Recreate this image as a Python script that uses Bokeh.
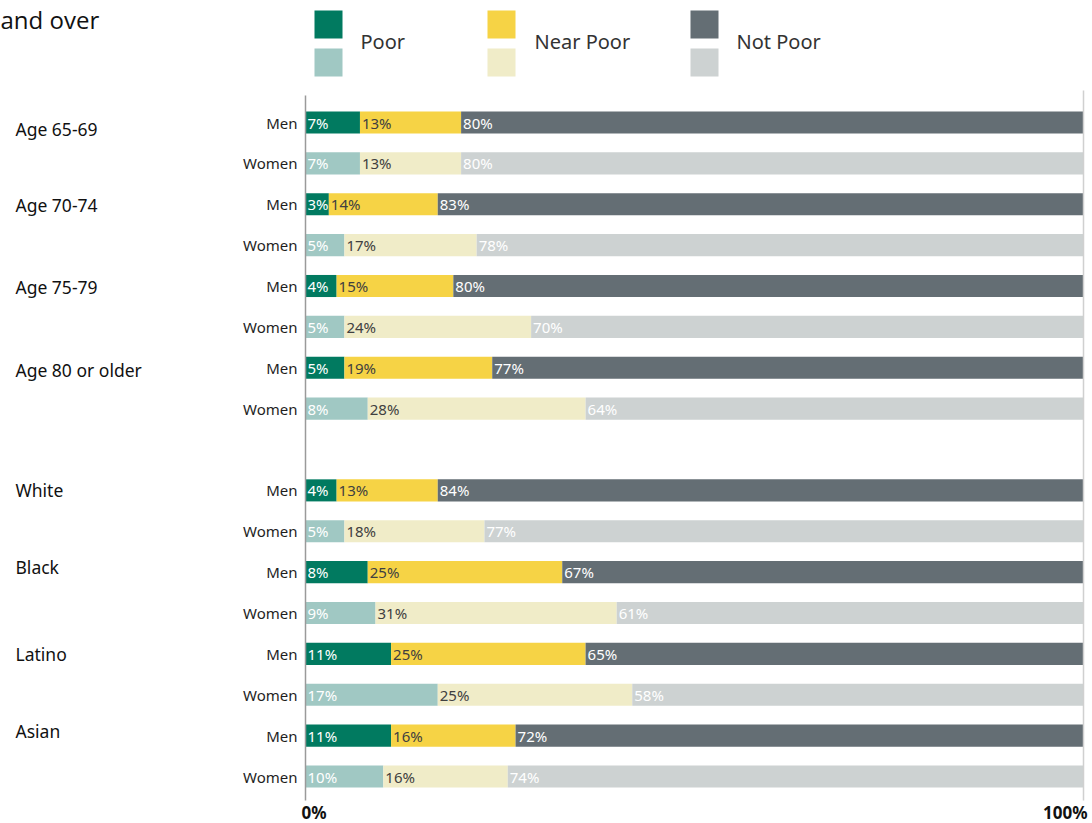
from bokeh.plotting import figure
from bokeh.models import ColumnDataSource, Range1d
from bokeh.core.properties import value
from bokeh.embed import file_html
from bokeh.resources import INLINE

groups = ["Age 65-69", "Age 70-74", "Age 75-79", "Age 80 or older",
          "White", "Black", "Latino", "Asian"]
sexes = ["Men", "Women"]
men_poor = [7, 3, 4, 5, 4, 8, 11, 11]
men_near = [13, 14, 15, 19, 13, 25, 25, 16]
men_not = [80, 83, 80, 77, 84, 67, 65, 72]
women_poor = [7, 5, 5, 8, 5, 9, 17, 10]
women_near = [13, 17, 24, 28, 18, 31, 25, 16]
women_not = [80, 78, 70, 64, 77, 61, 58, 74]
categories = ["Poor", "Near Poor", "Not Poor"]
tick_labels = ["0%", "100%"]
tick_values = [0, 100]

W, H = 1092, 823
X0, X100 = 305, 1083
PXU = (X100 - X0) / 100.0
ROW0, ROWSTEP = 122, 40.875
FONT = value("Noto Sans")
# small vertical nudges (pixels, positive = down) of the group labels, as in the original layout
group_dy = [6, 1, 1, 2, 0, -5, 0, -5]


def X(px):
    return (px - X0) / PXU


def Y(py):
    return (py - ROW0) / ROWSTEP


dark = {"Poor": "#017a60", "Near Poor": "#f6d345", "Not Poor": "#646e74"}
light = {"Poor": "#a0c8c3", "Near Poor": "#f0ecc8", "Not Poor": "#cdd2d2"}
lab_dark = {"Poor": "white", "Near Poor": "#404040", "Not Poor": "white"}
lab_light = {"Poor": "white", "Near Poor": "#404040", "Not Poor": "white"}

p = figure(width=W, height=H, output_backend="svg", toolbar_location=None,
           x_range=Range1d(X(0), X(W)), y_range=Range1d(Y(H), Y(0)),
           min_border=0, min_border_left=0, min_border_right=0,
           min_border_top=0, min_border_bottom=0)
p.axis.visible = False
p.grid.visible = False
p.outline_line_color = None
p.background_fill_color = "white"
p.border_fill_color = "white"

bar = dict(y=[], left=[], right=[], color=[], label=[], tcolor=[])
rowlab = dict(y=[], text=[])
grouplab = dict(y=[], text=[], dy=[])
for g, name in enumerate(groups):
    men_row = 2 * g + (1 if g >= 4 else 0)
    for s, (pv, nv, npv) in enumerate([(men_poor[g], men_near[g], men_not[g]),
                                        (women_poor[g], women_near[g], women_not[g])]):
        row = men_row + s
        cols = dark if s == 0 else light
        tcols = lab_dark if s == 0 else lab_light
        left = 0
        for cat, v in zip(categories, [pv, nv, npv]):
            right = left + v if cat != "Not Poor" else 100
            bar["y"].append(row)
            bar["left"].append(left)
            bar["right"].append(right)
            bar["color"].append(cols[cat])
            bar["label"].append(f"{v}%")
            bar["tcolor"].append(tcols[cat])
            left = left + v
        rowlab["y"].append(row)
        rowlab["text"].append(sexes[s])
    grouplab["y"].append(men_row)
    grouplab["text"].append(name)
    grouplab["dy"].append(group_dy[g])

src = ColumnDataSource(bar)
p.hbar(y="y", left="left", right="right", height=0.54, fill_color="color",
       line_color=None, source=src)
p.text(x="left", y="y", text="label", text_color="tcolor", source=src,
       x_offset=2, y_offset=0, text_baseline="middle", text_align="left",
       text_font=FONT, text_font_size="15px")

p.text(x=0, y="y", text="text", source=ColumnDataSource(rowlab), x_offset=-8,
       y_offset=0, text_align="right", text_baseline="middle", text_color="#1e1e1e",
       text_font=FONT, text_font_size="15px")
p.text(x=X(15), y="y", text="text", source=ColumnDataSource(grouplab), y_offset="dy",
       text_align="left", text_baseline="middle", text_color="#111111",
       text_font=FONT, text_font_size="17.5px")

# axis lines
p.segment(x0=[0], y0=[Y(95)], x1=[0], y1=[Y(800)], line_color="#9a9a9a", line_width=1.5)
p.segment(x0=[100], y0=[Y(90)], x1=[100], y1=[Y(800)], line_color="#d0d0d0", line_width=1.5)

# tick labels
p.text(x=tick_values, y=[Y(812)] * 2, text=tick_labels,
       text_align=["left", "right"], x_offset=[-4, 4], text_baseline="middle",
       text_color="#111111", text_font=FONT, text_font_size="17px",
       text_font_style="bold")

# legend
leg_x = [314, 487, 690]
leg_tx = [360, 534, 736]
for cat, lx, tx in zip(categories, leg_x, leg_tx):
    p.rect(x=[X(lx + 14)], y=[Y(24)], width=28 / PXU, height=28 / ROWSTEP,
           fill_color=dark[cat], line_color=None)
    p.rect(x=[X(lx + 14)], y=[Y(62)], width=28 / PXU, height=28 / ROWSTEP,
           fill_color=light[cat], line_color=None)
    p.text(x=[X(tx)], y=[Y(41)], text=[cat], text_align="left",
           text_baseline="middle", text_color="#333333",
           text_font=FONT, text_font_size="20px")

# title fragment (top of the original chart title)
p.text(x=[X(0)], y=[Y(2)], text=["and over"], text_align="left",
       text_baseline="top", text_color="#111111",
       text_font=value("Open Sans"), text_font_size="24px")

open("out.html", "w").write(file_html(p, INLINE))
